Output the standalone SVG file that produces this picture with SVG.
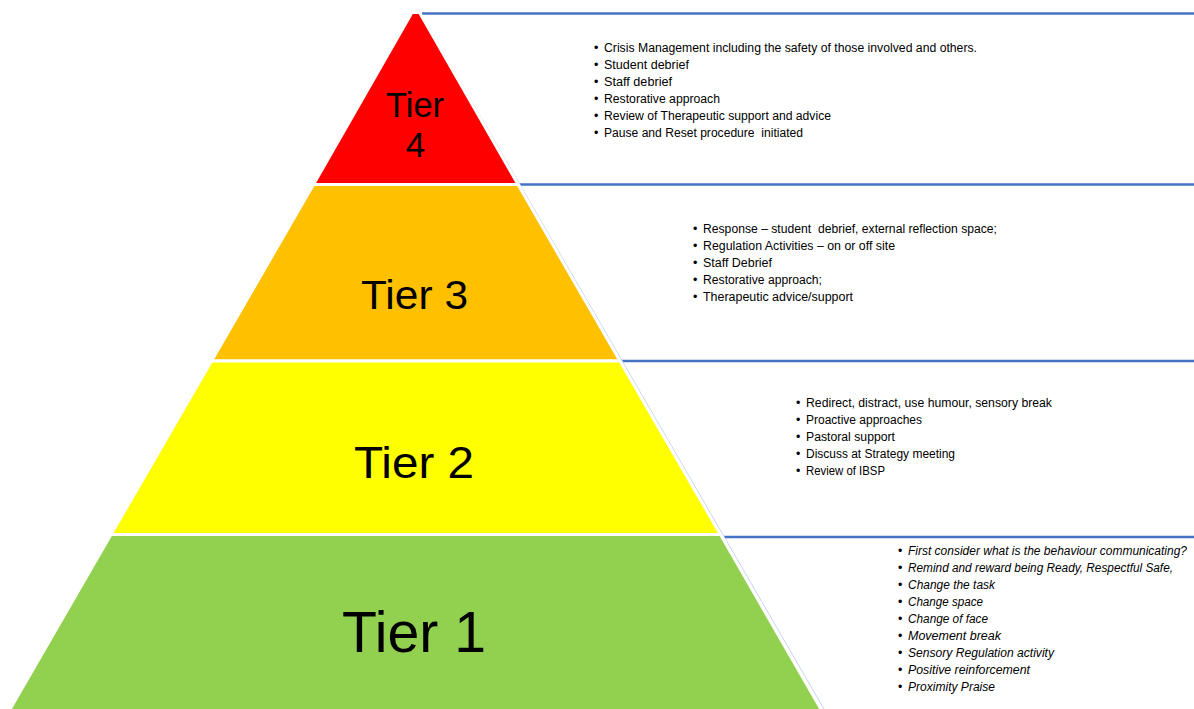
<svg xmlns="http://www.w3.org/2000/svg" width="1194" height="709" viewBox="0 0 1194 709">
<style>
.tier{stroke:#FFFFFF;stroke-width:3;stroke-linejoin:miter}
.lbl{font-family:"Liberation Sans",Arial,sans-serif;fill:#000000;text-anchor:middle}
.b{font-family:"Liberation Sans",Arial,sans-serif;font-size:12.5px;fill:#000000}
.i{font-style:italic}
.hl{stroke:#4472C4;stroke-width:2.5;fill:none}
</style>
<rect x="0" y="0" width="1194" height="709" fill="#FFFFFF"/>
<g id="connectors">
<line class="hl" x1="422" y1="13.5" x2="1194" y2="13.5"/>
<line class="hl" x1="517" y1="184.5" x2="1194" y2="184.5"/>
<line class="hl" x1="619" y1="361" x2="1194" y2="361"/>
<line class="hl" x1="724" y1="537" x2="1194" y2="537"/>
<line x1="421" y1="14" x2="824" y2="709" stroke="#C5D4EE" stroke-width="1"/>
</g>
<g id="tier4">
<polygon class="tier" fill="#FF0000" points="412,12.5 419.5,12.5 518,184.5 313.5,184.5"/>
<text class="lbl" x="415" y="117" font-size="35" textLength="58" lengthAdjust="spacingAndGlyphs">Tier</text>
<text class="lbl" x="415.5" y="157" font-size="35">4</text>
</g>
<g id="tier3">
<polygon class="tier" fill="#FFC000" points="313.5,184.5 518,184.5 620,361 211.5,361"/>
<text class="lbl" x="414.5" y="309" font-size="41" textLength="107" lengthAdjust="spacingAndGlyphs">Tier 3</text>
</g>
<g id="tier2">
<polygon class="tier" fill="#FFFF00" points="211.5,361 620,361 720.5,534.5 111,534.5"/>
<text class="lbl" x="414" y="478" font-size="45" textLength="120" lengthAdjust="spacingAndGlyphs">Tier 2</text>
</g>
<g id="tier1">
<polygon class="tier" fill="#92D050" points="111,534.5 720.5,534.5 822,711 9,711"/>
<text class="lbl" x="414" y="652" font-size="57" textLength="144" lengthAdjust="spacingAndGlyphs">Tier 1</text>
</g>
<g id="tier4-text">
<text class="b" x="594" y="52">•</text><text class="b" x="604" y="52" textLength="373" lengthAdjust="spacingAndGlyphs">Crisis Management including the safety of those involved and others.</text>
<text class="b" x="594" y="69">•</text><text class="b" x="604" y="69" textLength="85" lengthAdjust="spacingAndGlyphs">Student debrief</text>
<text class="b" x="594" y="86">•</text><text class="b" x="604" y="86" textLength="68" lengthAdjust="spacingAndGlyphs">Staff debrief</text>
<text class="b" x="594" y="103">•</text><text class="b" x="604" y="103" textLength="116" lengthAdjust="spacingAndGlyphs">Restorative approach</text>
<text class="b" x="594" y="120">•</text><text class="b" x="604" y="120" textLength="227" lengthAdjust="spacingAndGlyphs">Review of Therapeutic support and advice</text>
<text class="b" x="594" y="137">•</text><text class="b" x="604" y="137" textLength="199" lengthAdjust="spacingAndGlyphs" xml:space="preserve">Pause and Reset procedure  initiated</text>
</g>
<g id="tier3-text">
<text class="b" x="693" y="233">•</text><text class="b" x="703" y="233" textLength="294" lengthAdjust="spacingAndGlyphs" xml:space="preserve">Response – student  debrief, external reflection space;</text>
<text class="b" x="693" y="250">•</text><text class="b" x="703" y="250" textLength="192" lengthAdjust="spacingAndGlyphs">Regulation Activities – on or off site</text>
<text class="b" x="693" y="267">•</text><text class="b" x="703" y="267" textLength="69" lengthAdjust="spacingAndGlyphs">Staff Debrief</text>
<text class="b" x="693" y="284">•</text><text class="b" x="703" y="284" textLength="119" lengthAdjust="spacingAndGlyphs">Restorative approach;</text>
<text class="b" x="693" y="301">•</text><text class="b" x="703" y="301" textLength="150" lengthAdjust="spacingAndGlyphs">Therapeutic advice/support</text>
</g>
<g id="tier2-text">
<text class="b" x="796" y="407">•</text><text class="b" x="806" y="407" textLength="246" lengthAdjust="spacingAndGlyphs">Redirect, distract, use humour, sensory break</text>
<text class="b" x="796" y="424">•</text><text class="b" x="806" y="424" textLength="116" lengthAdjust="spacingAndGlyphs">Proactive approaches</text>
<text class="b" x="796" y="441">•</text><text class="b" x="806" y="441" textLength="89" lengthAdjust="spacingAndGlyphs">Pastoral support</text>
<text class="b" x="796" y="458">•</text><text class="b" x="806" y="458" textLength="149" lengthAdjust="spacingAndGlyphs">Discuss at Strategy meeting</text>
<text class="b" x="796" y="475">•</text><text class="b" x="806" y="475" textLength="79" lengthAdjust="spacingAndGlyphs">Review of IBSP</text>
</g>
<g id="tier1-text">
<text class="b" x="898" y="555">•</text><text class="b i" x="908" y="555" font-size="11.8" textLength="279" lengthAdjust="spacingAndGlyphs">First consider what is the behaviour communicating?</text>
<text class="b" x="898" y="572">•</text><text class="b i" x="908" y="572" textLength="265" lengthAdjust="spacingAndGlyphs">Remind and reward being Ready, Respectful Safe,</text>
<text class="b" x="898" y="589">•</text><text class="b i" x="908" y="589" textLength="87" lengthAdjust="spacingAndGlyphs">Change the task</text>
<text class="b" x="898" y="606">•</text><text class="b i" x="908" y="606" textLength="75" lengthAdjust="spacingAndGlyphs">Change space</text>
<text class="b" x="898" y="623">•</text><text class="b i" x="908" y="623" textLength="80" lengthAdjust="spacingAndGlyphs">Change of face</text>
<text class="b" x="898" y="640">•</text><text class="b i" x="908" y="640" textLength="93" lengthAdjust="spacingAndGlyphs">Movement break</text>
<text class="b" x="898" y="657">•</text><text class="b i" x="908" y="657" textLength="146" lengthAdjust="spacingAndGlyphs">Sensory Regulation activity</text>
<text class="b" x="898" y="674">•</text><text class="b i" x="908" y="674" textLength="122" lengthAdjust="spacingAndGlyphs">Positive reinforcement</text>
<text class="b" x="898" y="691">•</text><text class="b i" x="908" y="691" textLength="87" lengthAdjust="spacingAndGlyphs">Proximity Praise</text>
</g>
</svg>
